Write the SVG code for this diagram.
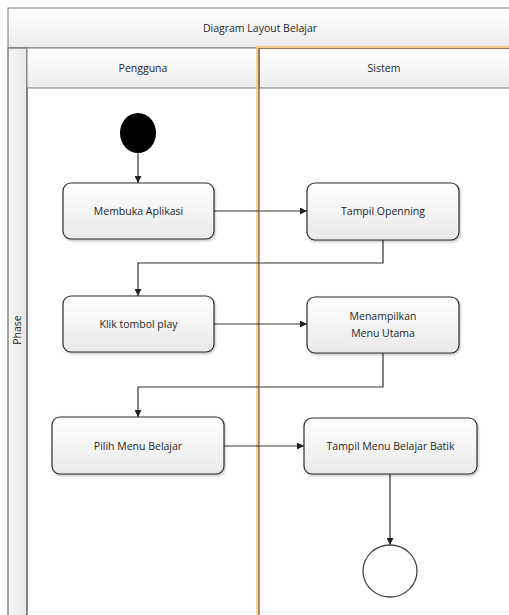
<svg xmlns="http://www.w3.org/2000/svg" width="509" height="615" viewBox="0 0 509 615">
  <style>
    .frame { fill: none; stroke: #6b6b6b; stroke-width: 1.2; }
    .band { fill: url(#bandGrad); stroke: #7a7a7a; stroke-width: 1; }
    .label { font-family: "Open Sans", "Liberation Sans", sans-serif; font-size: 10.5px; fill: #262626; text-anchor: middle; }
    .box { fill: url(#boxGrad); stroke: #2e2e2e; stroke-width: 1.2; filter: url(#shadow); }
    .conn { fill: none; stroke: #333; stroke-width: 1.2; marker-end: url(#arrow); }
  </style>
  <defs>
    <linearGradient id="bandGrad" x1="0" y1="0" x2="0" y2="1">
      <stop offset="0" stop-color="#ffffff"/>
      <stop offset="1" stop-color="#ececec"/>
    </linearGradient>
    <linearGradient id="phaseGrad" x1="0" y1="0" x2="1" y2="0">
      <stop offset="0" stop-color="#f6f6f6"/>
      <stop offset="1" stop-color="#e8e8e8"/>
    </linearGradient>
    <linearGradient id="boxGrad" x1="0" y1="0" x2="0" y2="1">
      <stop offset="0" stop-color="#ffffff"/>
      <stop offset="1" stop-color="#e9e9e9"/>
    </linearGradient>
    <filter id="shadow" x="-10%" y="-10%" width="125%" height="130%">
      <feDropShadow dx="1" dy="1.5" stdDeviation="1.2" flood-color="#000" flood-opacity="0.25"/>
    </filter>
    <marker id="arrow" viewBox="0 0 10 10" refX="10" refY="5" markerWidth="7" markerHeight="7" orient="auto" markerUnits="userSpaceOnUse">
      <path d="M0,0 L10,5 L0,10 z" fill="#222"/>
    </marker>
  </defs>

  <rect width="509" height="615" fill="#ffffff"/>

  <!-- swimlane pool (continues past the right edge) -->
  <g id="pool">
    <rect class="band" x="8" y="8" width="510" height="40"/>
    <text class="label" x="260" y="32">Diagram Layout Belajar</text>
    <rect x="8" y="48" width="19" height="580" fill="url(#phaseGrad)" stroke="#6b6b6b" stroke-width="1.2"/>
    <text class="label" transform="translate(20.5 330) rotate(-90)">Phase</text>
    <rect class="band" x="27" y="48" width="232" height="40"/>
    <text class="label" x="143" y="72">Pengguna</text>
    <rect class="band" x="259" y="48" width="260" height="40"/>
    <text class="label" x="384" y="72">Sistem</text>
    <line x1="27" y1="88" x2="27" y2="615" stroke="#6b6b6b" stroke-width="1.2"/>
    <line x1="27" y1="612" x2="509" y2="612" stroke="#ececec" stroke-width="1"/>
    <!-- highlighted Sistem lane -->
    <polyline points="257.5,615 257.5,47 509,47" fill="none" stroke="#f7c98a" stroke-width="2.5"/>
    <line x1="259" y1="48" x2="259" y2="615" stroke="#4a3e2a" stroke-width="1"/>
    <line x1="259" y1="48.5" x2="509" y2="48.5" stroke="#8a7a5a" stroke-width="1"/>
  </g>

  <!-- connectors -->
  <g id="connectors">
    <line class="conn" x1="138" y1="153" x2="138" y2="183"/>
    <line class="conn" x1="214" y1="211" x2="307" y2="211"/>
    <polyline class="conn" points="383,240 383,263 138,263 138,296"/>
    <line class="conn" x1="214" y1="324" x2="307" y2="324"/>
    <polyline class="conn" points="383,353 383,387 138,387 138,417"/>
    <line class="conn" x1="224" y1="446" x2="304" y2="446"/>
    <line class="conn" x1="390" y1="474" x2="390" y2="545"/>
  </g>

  <!-- nodes -->
  <g id="start">
    <ellipse cx="138" cy="133" rx="18" ry="20" fill="#000"/>
  </g>
  <g id="membuka-aplikasi">
    <rect class="box" x="63" y="183" width="151" height="56" rx="8"/>
    <text class="label" x="138.5" y="215">Membuka Aplikasi</text>
  </g>
  <g id="tampil-openning">
    <rect class="box" x="307" y="183" width="152" height="57" rx="8"/>
    <text class="label" x="383" y="215">Tampil Openning</text>
  </g>
  <g id="klik-tombol-play">
    <rect class="box" x="63" y="296" width="151" height="56" rx="8"/>
    <text class="label" x="138.5" y="328">Klik tombol play</text>
  </g>
  <g id="menampilkan-menu-utama">
    <rect class="box" x="307" y="297" width="152" height="56" rx="8"/>
    <text class="label" x="383" y="320">Menampilkan</text>
    <text class="label" x="383" y="337">Menu Utama</text>
  </g>
  <g id="pilih-menu-belajar">
    <rect class="box" x="52" y="417" width="172" height="57" rx="8"/>
    <text class="label" x="138" y="450">Pilih Menu Belajar</text>
  </g>
  <g id="tampil-menu-belajar-batik">
    <rect class="box" x="304" y="418" width="173" height="56" rx="8"/>
    <text class="label" x="390.5" y="450">Tampil Menu Belajar Batik</text>
  </g>
  <g id="end">
    <ellipse cx="390" cy="571" rx="27" ry="26" fill="#fff" stroke="#444" stroke-width="1.3"/>
  </g>
</svg>
